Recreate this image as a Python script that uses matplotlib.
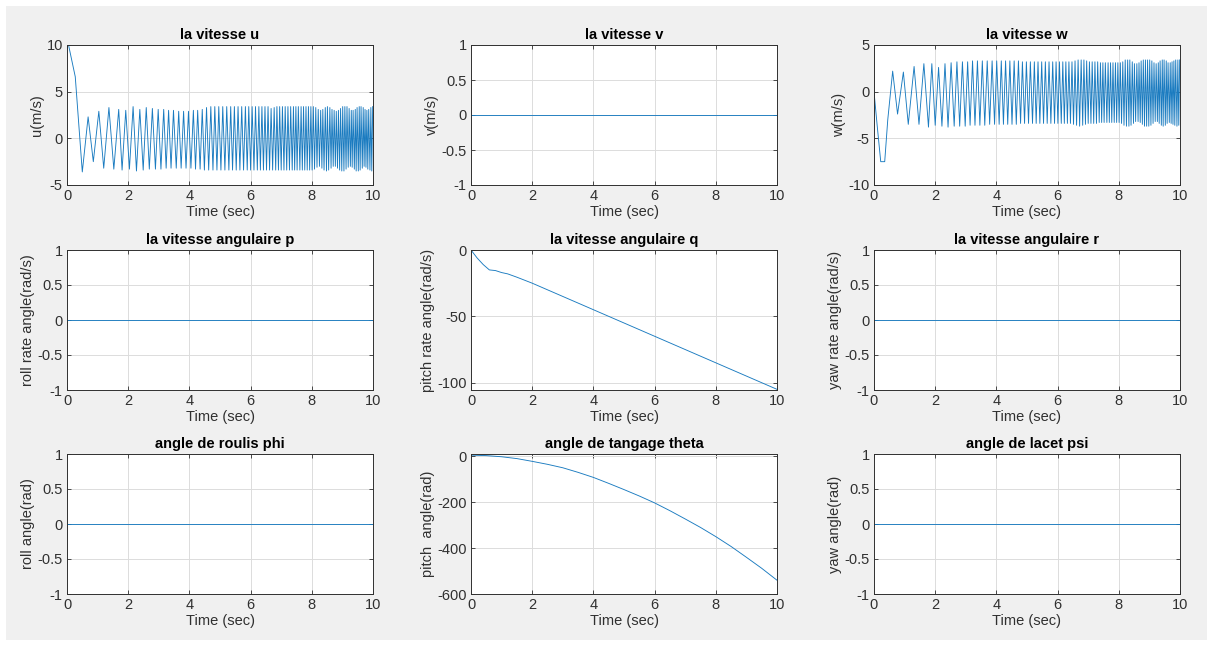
import numpy as np
import matplotlib
matplotlib.use('Agg')
import matplotlib.pyplot as plt
from matplotlib.patches import Rectangle

plt.rcParams['font.family'] = ['Liberation Sans', 'DejaVu Sans']
plt.rcParams['axes.unicode_minus'] = False

# ---- data ----
# flat signals (v, p, r, phi, psi)
t_flat = [0, 10]
zero_flat = [0, 0]

# u: start, then oscillation (crests / troughs)
u_head_t = [0.0, 0.05, 0.27]
u_head_v = [10.0, 10.0, 6.6]
u_crest_t = [0.69, 1.04, 1.37, 1.69, 1.92, 2.16, 2.38, 2.59, 2.79, 2.98,
             3.16, 3.32, 3.48, 3.65, 3.81, 3.97, 4.13, 4.27, 4.42, 4.56,
             4.70, 4.83, 4.96, 5.09, 5.22, 5.35, 5.47, 5.59, 5.71, 5.83,
             5.94, 6.05, 6.16, 6.27, 6.37, 6.47, 6.57, 6.67, 6.77, 6.86,
             6.95, 7.04, 7.13, 7.22, 7.31, 7.40, 7.48, 7.56, 7.65, 7.73,
             7.81, 7.89, 7.97, 8.05, 8.13, 8.21, 8.29, 8.36, 8.44, 8.51,
             8.59, 8.66, 8.73, 8.80, 8.87, 8.94, 9.01, 9.08, 9.15, 9.22,
             9.29, 9.35, 9.42, 9.48, 9.55, 9.61, 9.68, 9.74, 9.80, 9.86,
             9.93, 9.99]
u_crest_v = [2.3, 2.9, 3.3, 3.1, 3.0, 3.4, 3.1, 3.3, 3.2, 3.1,
             3.1, 3.0, 3.0, 2.9, 2.9, 2.9, 3.0, 3.0, 3.1, 3.3,
             3.4, 3.4, 3.4, 3.4, 3.4, 3.4, 3.4, 3.4, 3.4, 3.4,
             3.4, 3.4, 3.4, 3.4, 3.4, 3.4, 3.4, 3.2, 3.3, 3.4,
             3.4, 3.4, 3.4, 3.4, 3.4, 3.4, 3.4, 3.4, 3.4, 3.4,
             3.4, 3.4, 3.4, 3.4, 3.3, 3.1, 3.0, 3.1, 3.3, 3.4,
             3.3, 3.1, 3.0, 2.9, 3.0, 3.2, 3.4, 3.4, 3.4, 3.2,
             3.0, 3.0, 3.1, 3.3, 3.4, 3.4, 3.3, 3.1, 3.0, 3.1,
             3.3, 3.4]
u_trough_t = [0.50, 0.86, 1.20, 1.53, 1.80, 2.04, 2.27, 2.49, 2.69, 2.89,
              3.07, 3.24, 3.40, 3.57, 3.73, 3.89, 4.05, 4.20, 4.35, 4.49,
              4.63, 4.77, 4.90, 5.03, 5.16, 5.29, 5.41, 5.53, 5.65, 5.77,
              5.89, 6.00, 6.11, 6.22, 6.32, 6.42, 6.52, 6.62, 6.72, 6.82,
              6.91, 7.00, 7.09, 7.18, 7.27, 7.36, 7.44, 7.52, 7.61, 7.69,
              7.77, 7.85, 7.93, 8.01, 8.09, 8.17, 8.25, 8.33, 8.40, 8.48,
              8.55, 8.63, 8.70, 8.77, 8.84, 8.91, 8.98, 9.05, 9.12, 9.19,
              9.26, 9.32, 9.39, 9.45, 9.52, 9.58, 9.65, 9.71, 9.77, 9.83,
              9.90, 9.96]
u_trough_v = [-3.6, -2.5, -3.2, -3.3, -3.4, -3.3, -3.5, -3.4, -3.3, -3.3,
              -3.3, -3.2, -3.2, -3.2, -3.2, -3.2, -3.2, -3.3, -3.3, -3.4,
              -3.4, -3.4, -3.4, -3.4, -3.4, -3.4, -3.4, -3.4, -3.4, -3.4,
              -3.4, -3.4, -3.4, -3.4, -3.4, -3.4, -3.4, -3.4, -3.4, -3.4,
              -3.4, -3.4, -3.4, -3.4, -3.4, -3.4, -3.4, -3.4, -3.4, -3.4,
              -3.4, -3.4, -3.4, -3.4, -3.3, -3.1, -3.0, -3.2, -3.4, -3.5,
              -3.4, -3.2, -3.0, -3.0, -3.2, -3.4, -3.5, -3.5, -3.3, -3.1,
              -3.0, -3.1, -3.3, -3.5, -3.5, -3.4, -3.2, -3.0, -3.1, -3.3,
              -3.4, -3.5]

# w: start, dip, then oscillation
w_head_t = [0.0, 0.1, 0.22, 0.35, 0.45]
w_head_v = [0.0, -3.5, -7.5, -7.5, -3.0]
w_crest_t = [0.61, 0.96, 1.31, 1.63, 1.89, 2.11, 2.32, 2.52, 2.71, 2.89,
             3.06, 3.22, 3.38, 3.54, 3.70, 3.86, 4.01, 4.16, 4.30, 4.44,
             4.58, 4.72, 4.85, 4.98, 5.11, 5.24, 5.36, 5.48, 5.60, 5.72,
             5.84, 5.95, 6.06, 6.17, 6.27, 6.37, 6.47, 6.57, 6.67, 6.77,
             6.86, 6.95, 7.04, 7.13, 7.22, 7.31, 7.40, 7.48, 7.56, 7.65,
             7.73, 7.81, 7.89, 7.97, 8.05, 8.13, 8.21, 8.29, 8.36, 8.44,
             8.51, 8.59, 8.66, 8.73, 8.80, 8.87, 8.94, 9.01, 9.08, 9.15,
             9.22, 9.29, 9.35, 9.42, 9.48, 9.55, 9.61, 9.68, 9.74, 9.80,
             9.86, 9.93, 9.99]
w_crest_v = [2.2, 2.1, 2.7, 3.0, 3.0, 2.6, 3.0, 3.1, 3.2, 3.2,
             3.2, 3.3, 3.3, 3.3, 3.3, 3.3, 3.3, 3.3, 3.3, 3.3,
             3.3, 3.3, 3.2, 3.2, 3.2, 3.2, 3.2, 3.2, 3.2, 3.2,
             3.2, 3.2, 3.2, 3.2, 3.2, 3.2, 3.2, 3.3, 3.4, 3.4,
             3.4, 3.3, 3.2, 3.2, 3.2, 3.2, 3.1, 3.1, 3.1, 3.1,
             3.1, 3.1, 3.1, 3.1, 3.1, 3.2, 3.4, 3.4, 3.4, 3.2,
             3.0, 3.0, 3.1, 3.3, 3.4, 3.4, 3.4, 3.4, 3.3, 3.1,
             3.0, 3.1, 3.3, 3.4, 3.4, 3.3, 3.1, 3.1, 3.2, 3.3,
             3.4, 3.4, 3.4]
w_trough_t = [0.77, 1.12, 1.47, 1.78, 2.00, 2.22, 2.42, 2.62, 2.80, 2.98,
              3.14, 3.30, 3.46, 3.62, 3.78, 3.94, 4.09, 4.23, 4.37, 4.51,
              4.65, 4.79, 4.92, 5.05, 5.18, 5.30, 5.42, 5.54, 5.66, 5.78,
              5.90, 6.01, 6.12, 6.22, 6.32, 6.42, 6.52, 6.62, 6.72, 6.82,
              6.91, 7.00, 7.09, 7.18, 7.27, 7.36, 7.44, 7.52, 7.61, 7.69,
              7.77, 7.85, 7.93, 8.01, 8.09, 8.17, 8.25, 8.33, 8.40, 8.48,
              8.55, 8.63, 8.70, 8.77, 8.84, 8.91, 8.98, 9.05, 9.12, 9.19,
              9.26, 9.32, 9.39, 9.45, 9.52, 9.58, 9.65, 9.71, 9.77, 9.83,
              9.90, 9.96]
w_trough_v = [-2.4, -3.5, -3.5, -3.8, -3.6, -3.7, -3.8, -3.7, -3.7, -3.7,
              -3.6, -3.6, -3.6, -3.6, -3.5, -3.5, -3.5, -3.5, -3.5, -3.5,
              -3.5, -3.4, -3.4, -3.4, -3.4, -3.4, -3.4, -3.4, -3.4, -3.4,
              -3.4, -3.4, -3.4, -3.4, -3.4, -3.4, -3.5, -3.6, -3.7, -3.6,
              -3.5, -3.4, -3.4, -3.4, -3.4, -3.3, -3.3, -3.3, -3.3, -3.3,
              -3.3, -3.3, -3.3, -3.3, -3.4, -3.6, -3.7, -3.7, -3.6, -3.4,
              -3.2, -3.2, -3.3, -3.5, -3.7, -3.7, -3.7, -3.6, -3.4, -3.2,
              -3.2, -3.4, -3.6, -3.7, -3.6, -3.4, -3.3, -3.4, -3.5, -3.6,
              -3.7, -3.6]

# q (pitch rate)
q_t = [0, 0.2, 0.4, 0.6, 0.8, 1.0, 1.2, 1.5, 2, 3, 4, 5, 6, 7, 8, 9, 10]
q_v = [0, -6, -11, -15, -15.5, -17, -18, -20.5, -25, -35, -45, -55, -65, -75, -85, -95, -105]

# theta (pitch angle)
theta_t = [0, 0.5, 1, 1.5, 2, 2.5, 3, 3.5, 4, 4.5, 5, 5.5, 6, 6.5, 7, 7.5, 8, 8.5, 9, 9.5, 10]
theta_v = [5, 3, -2, -10, -22, -35, -50, -70, -92, -118, -145, -173, -203, -237,
           -273, -310, -350, -393, -440, -488, -540]


def build(head_t, head_v, ct, cv, tt, tv):
    t = np.concatenate([head_t, ct, tt])
    v = np.concatenate([head_v, cv, tv])
    order = np.argsort(t)
    return t[order], v[order]


u_t, u_v = build(u_head_t, u_head_v, u_crest_t, u_crest_v, u_trough_t, u_trough_v)
w_t, w_v = build(w_head_t, w_head_v, w_crest_t, w_crest_v, w_trough_t, w_trough_v)

unit_ticks = [-1, -0.5, 0, 0.5, 1]
unit_labels = ['-1', '-0.5', '0', '0.5', '1']
panels = [
    ('la vitesse u', 'u(m/s)', u_t, u_v, (-5, 10), [-5, 0, 5, 10], ['-5', '0', '5', '10']),
    ('la vitesse v', 'v(m/s)', t_flat, zero_flat, (-1, 1), unit_ticks, unit_labels),
    ('la vitesse w', 'w(m/s)', w_t, w_v, (-10, 5), [-10, -5, 0, 5], ['-10', '-5', '0', '5']),
    ('la vitesse angulaire p', 'roll rate angle(rad/s)', t_flat, zero_flat, (-1, 1), unit_ticks, unit_labels),
    ('la vitesse angulaire q', 'pitch rate angle(rad/s)', q_t, q_v, (-105.5, 0), [-100, -50, 0], ['-100', '-50', '0']),
    ('la vitesse angulaire r', 'yaw rate angle(rad/s)', t_flat, zero_flat, (-1, 1), unit_ticks, unit_labels),
    ('angle de roulis phi', 'roll angle(rad)', t_flat, zero_flat, (-1, 1), unit_ticks, unit_labels),
    ('angle de tangage theta', 'pitch  angle(rad)', theta_t, theta_v, (-600, 10), [-600, -400, -200, 0], ['-600', '-400', '-200', '0']),
    ('angle de lacet psi', 'yaw angle(rad)', t_flat, zero_flat, (-1, 1), unit_ticks, unit_labels),
]

W, H = 1213, 646
fig = plt.figure(figsize=(W / 100, H / 100), dpi=100, facecolor='white')
fig.patches.append(Rectangle((6 / W, 6 / H), 1 - 12 / W, 1 - 12 / H,
                             transform=fig.transFigure, facecolor='#f0f0f0',
                             edgecolor='none', zorder=-10))

lefts = [67, 471, 874]
tops = [45, 250, 454]
aw, ah = 306, 140
txt = '#303030'

for i, (title, ylab, x, y, ylim, yt, ytl) in enumerate(panels):
    r, c = divmod(i, 3)
    ax = fig.add_axes([lefts[c] / W, 1 - (tops[r] + ah) / H, aw / W, ah / H])
    ax.plot(x, y, color='#1a7bc0', lw=0.65)
    ax.set_xlim(0, 10)
    ax.set_ylim(*ylim)
    ax.set_xticks([0, 2, 4, 6, 8, 10], ['0', '2', '4', '6', '8', '10'])
    ax.set_yticks(yt, ytl)
    ax.grid(True, color='#dcdcdc', lw=0.7)
    ax.set_axisbelow(True)
    ax.tick_params(direction='in', top=True, right=True, length=3, width=0.6,
                   colors=txt, labelsize=10.5, pad=3)
    for s in ax.spines.values():
        s.set_color('#303030')
        s.set_linewidth(0.7)
    ax.set_title(title, fontsize=10.5, fontweight='bold', color='black', pad=4)
    ax.set_xlabel('Time (sec)', fontsize=10.5, color=txt, labelpad=1)
    ax.set_ylabel(ylab, fontsize=10.5, color=txt, labelpad=2)

fig.savefig('out.png', dpi=100, facecolor=fig.get_facecolor())
